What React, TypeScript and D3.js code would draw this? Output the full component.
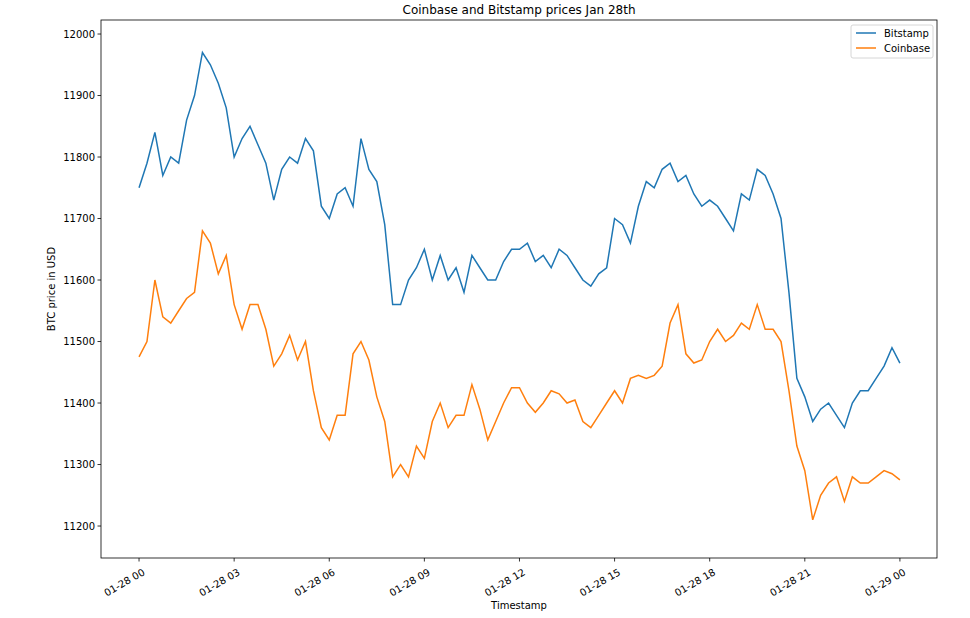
import React from "react";
import * as d3 from "d3";

const hours = d3.range(0, 24.01, 0.25);
const bitstamp = [11750,11790,11840,11770,11800,11790,11860,11900,11970,11950,11920,11880,11800,11830,11850,11820,11790,11730,11780,11800,11790,11830,11810,11720,11700,11740,11750,11720,11830,11780,11760,11690,11560,11560,11600,11620,11650,11600,11640,11600,11620,11580,11640,11620,11600,11600,11630,11650,11650,11660,11630,11640,11620,11650,11640,11620,11600,11590,11610,11620,11700,11690,11660,11720,11760,11750,11780,11790,11760,11770,11740,11720,11730,11720,11700,11680,11740,11730,11780,11770,11740,11700,11580,11440,11410,11370,11390,11400,11380,11360,11400,11420,11420,11440,11460,11490,11465];
const coinbase = [11475,11500,11600,11540,11530,11550,11570,11580,11680,11660,11610,11640,11560,11520,11560,11560,11520,11460,11480,11510,11470,11500,11420,11360,11340,11380,11380,11480,11500,11470,11410,11370,11280,11300,11280,11330,11310,11370,11400,11360,11380,11380,11430,11390,11340,11370,11400,11425,11425,11400,11385,11400,11420,11415,11400,11405,11370,11360,11380,11400,11420,11400,11440,11445,11440,11445,11460,11530,11560,11480,11465,11470,11500,11520,11500,11510,11530,11520,11560,11520,11520,11500,11420,11330,11290,11210,11250,11270,11280,11240,11280,11270,11270,11280,11290,11285,11275];
const xTickHours = [0,3,6,9,12,15,18,21,24];
const xTickLabels = ["01-28 00","01-28 03","01-28 06","01-28 09","01-28 12","01-28 15","01-28 18","01-28 21","01-29 00"];
const yTicks = [11200,11300,11400,11500,11600,11700,11800,11900,12000];

export default function App() {
  const L = 101, R = 937, T = 20, B = 558;
  const x = d3.scaleLinear().domain([-1.2, 25.17]).range([L, R]);
  const y = d3.scaleLinear().domain([11148, 12022.8]).range([B, T]);
  const line = d3.line<number>().x((_, i) => x(hours[i])).y(d => y(d));
  const font = "DejaVu Sans, sans-serif";
  return (
    <svg width={970} height={618} style={{ position: "absolute", left: 0, top: 0, background: "#fff" }} fontFamily={font}>
      <text x={(L + R) / 2} y={14} textAnchor="middle" fontSize={12}>Coinbase and Bitstamp prices Jan 28th</text>
      <path d={line(bitstamp) || ""} fill="none" stroke="#1f77b4" strokeWidth={1.5} />
      <path d={line(coinbase) || ""} fill="none" stroke="#ff7f0e" strokeWidth={1.5} />
      <rect x={L} y={T} width={R - L} height={B - T} fill="none" stroke="#000" strokeWidth={0.8} />
      {xTickHours.map((h, i) => (
        <g key={h}>
          <line x1={x(h)} x2={x(h)} y1={B} y2={B + 3.5} stroke="#000" strokeWidth={0.8} />
          <text transform={`translate(${x(h) + 3},${B + 10}) rotate(-30)`} textAnchor="end" dominantBaseline="hanging" fontSize={10}>{xTickLabels[i]}</text>
        </g>
      ))}
      {yTicks.map(v => (
        <g key={v}>
          <line x1={L - 3.5} x2={L} y1={y(v)} y2={y(v)} stroke="#000" strokeWidth={0.8} />
          <text x={L - 6} y={y(v)} textAnchor="end" dominantBaseline="central" fontSize={10}>{v}</text>
        </g>
      ))}
      <text x={(L + R) / 2} y={609} textAnchor="middle" fontSize={10}>Timestamp</text>
      <text transform={`translate(55,${(T + B) / 2}) rotate(-90)`} textAnchor="middle" fontSize={10}>BTC price in USD</text>
      <rect x={851} y={25} width={82} height={33} rx={2} fill="#fff" stroke="#ccc" strokeWidth={0.8} />
      <line x1={856} x2={876} y1={33} y2={33} stroke="#1f77b4" strokeWidth={1.5} />
      <text x={884} y={33} dominantBaseline="central" fontSize={10}>Bitstamp</text>
      <line x1={856} x2={876} y1={48} y2={48} stroke="#ff7f0e" strokeWidth={1.5} />
      <text x={884} y={48} dominantBaseline="central" fontSize={10}>Coinbase</text>
    </svg>
  );
}
